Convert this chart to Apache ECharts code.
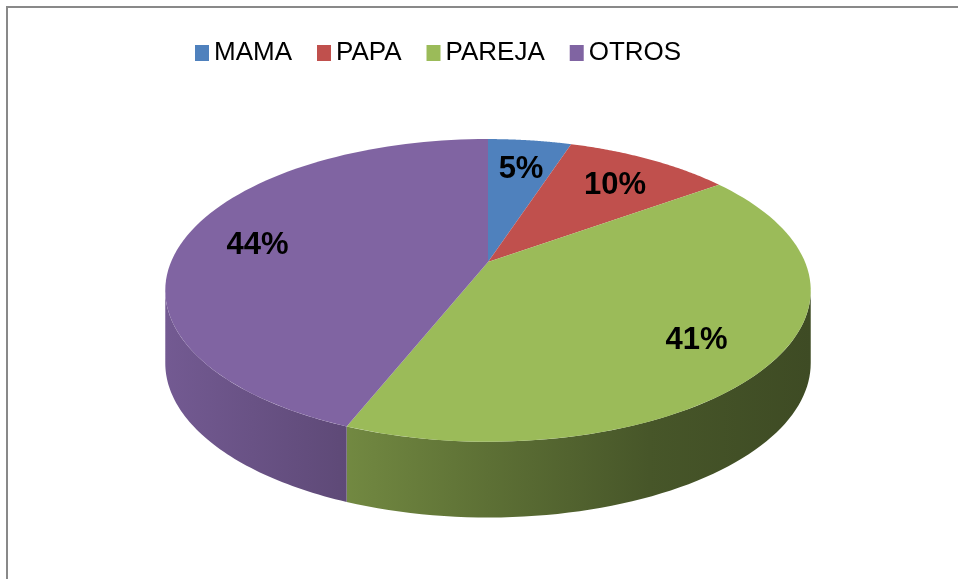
<!DOCTYPE html>
<html>
<head>
<meta charset="utf-8">
<title>pie 3d</title>
<script src="https://cdn.jsdelivr.net/npm/echarts@6/dist/echarts.min.js"></script>
<style>
  html, body { margin: 0; padding: 0; background: #fff; }
  #chart { width: 958px; height: 579px; }
</style>
</head>
<body>
<div id="chart"></div>
<script>
// datos
const categories = ['MAMA', 'PAPA', 'PAREJA', 'OTROS'];
const values = [5, 10, 41, 44];
const colors = ['#4F81BD', '#C0504D', '#9BBB59', '#8064A2'];

// geometria del pastel inclinado (Excel 3D)
const CX = 488, CY = 262;       // vertice
const RX = 317, RY = 146;        // radios
const PERSP = 0.1876;            // perspectiva
const DEPTH = 72, DPERSP = 0.05; // grosor
const LABEL_R = 0.76;

const total = values.reduce((a, b) => a + b, 0);
const starts = [];
values.reduce((acc, v, i) => { starts[i] = acc; return acc + v; }, 0);

function project(theta, r, d) {
  const s = Math.sin(theta), c = Math.cos(theta);
  const k = 1 + PERSP * r * c;
  return [CX + r * RX * s / k, CY - r * RY * c / k + d * DEPTH / (1 + DPERSP * c)];
}

function shade(hex, f) {
  const n = parseInt(hex.slice(1), 16);
  const r = Math.round(((n >> 16) & 255) * f);
  const g = Math.round(((n >> 8) & 255) * f);
  const b = Math.round((n & 255) * f);
  return 'rgb(' + r + ',' + g + ',' + b + ')';
}

// la pared lateral es visible entre estos angulos
const VIS0 = Math.acos(-PERSP);
const VIS1 = Math.PI * 2 - VIS0;

function renderSlice(params, api) {
  const i = params.seriesIndex;
  const v = api.value(0);
  const a0 = starts[i] / total * Math.PI * 2;
  const a1 = (starts[i] + v) / total * Math.PI * 2;
  const color = colors[i];
  const children = [];

  // pared
  const s0 = Math.max(a0, VIS0), s1 = Math.min(a1, VIS1);
  if (s1 > s0) {
    const pts = [];
    const n = 60;
    for (let j = 0; j <= n; j++) pts.push(project(s0 + (s1 - s0) * j / n, 1, 0));
    for (let j = n; j >= 0; j--) pts.push(project(s0 + (s1 - s0) * j / n, 1, 1));
    children.push({
      type: 'polygon',
      shape: { points: pts },
      style: {
        fill: {
          type: 'linear', x: CX - 323, y: 0, x2: CX + 323, y2: 0, global: true,
          colorStops: [
            { offset: 0, color: shade(color, 0.9) },
            { offset: 0.27, color: shade(color, 0.74) },
            { offset: 0.5, color: shade(color, 0.6) },
            { offset: 0.75, color: shade(color, 0.46) },
            { offset: 1, color: shade(color, 0.4) }
          ]
        }
      }
    });
  }

  // cara superior
  const top = [project(0, 0, 0)];
  const m = 80;
  for (let j = 0; j <= m; j++) top.push(project(a0 + (a1 - a0) * j / m, 1, 0));
  children.push({ type: 'polygon', shape: { points: top }, style: { fill: color } });

  // etiqueta
  const mid = (a0 + a1) / 2;
  const lp = project(mid, LABEL_R, 0);
  children.push({
    type: 'text',
    z2: 100,
    style: {
      text: Math.round(v / total * 100) + '%',
      x: lp[0], y: lp[1] + 4,
      align: 'center', verticalAlign: 'middle',
      font: 'bold 31px "Liberation Sans", Arial, sans-serif',
      fill: '#000'
    }
  });

  return { type: 'group', children: children };
}

var myChart = echarts.init(document.getElementById('chart'));

var option = {
  animation: false,
  color: colors,
  legend: {
    data: categories,
    left: 190,
    top: 35,
    icon: 'rect',
    itemWidth: 14,
    itemHeight: 16,
    itemGap: 25,
    textStyle: { fontSize: 26, fontFamily: '"Liberation Sans", Arial, sans-serif', color: '#000' }
  },
  graphic: [{
    type: 'rect',
    shape: { x: 7, y: 7, width: 1200, height: 1200 },
    style: { fill: 'none', stroke: '#898989', lineWidth: 2 },
    silent: true
  }],
  series: categories.map((name, i) => ({
    type: 'custom',
    name: name,
    coordinateSystem: 'none',
    itemStyle: { color: colors[i] },
    renderItem: renderSlice,
    data: [[values[i]]]
  }))
};

myChart.setOption(option);
</script>
</body>
</html>
